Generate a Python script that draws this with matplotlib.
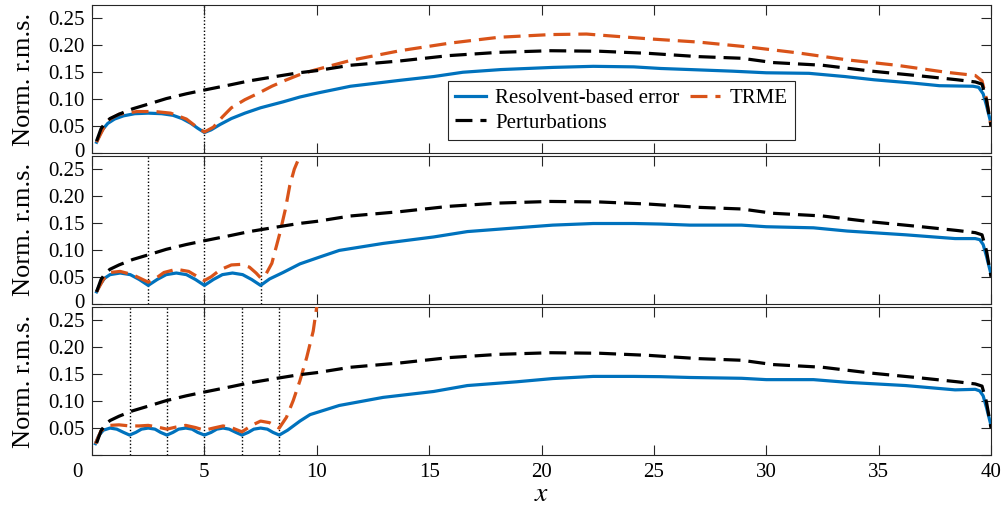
import matplotlib
matplotlib.use("Agg")
import matplotlib.pyplot as plt
from matplotlib.lines import Line2D
from matplotlib.transforms import ScaledTranslation

plt.rcParams["font.family"] = ["Liberation Serif", "DejaVu Serif"]
plt.rcParams["mathtext.fontset"] = "stix"

# ---- data -------------------------------------------------------------
# Perturbation amplitude (same in every panel)
pert_x = [0.2, 0.4, 0.6, 0.8, 1.2, 1.8, 2.6, 3.3, 4.2, 5.0, 6.2, 7.0, 8.3, 9.2,
          10.0, 11.5, 13.7, 15.9, 18.1, 20.4, 22.6, 24.8, 27.0, 28.9, 30.3, 32.5,
          34.7, 36.9, 38.5, 39.3, 39.6, 39.8, 40.0]
pert_y = [0.022, 0.045, 0.057, 0.064, 0.072, 0.082, 0.092, 0.101, 0.110, 0.117,
          0.127, 0.134, 0.143, 0.149, 0.153, 0.163, 0.171, 0.181, 0.187, 0.190,
          0.189, 0.185, 0.179, 0.176, 0.168, 0.163, 0.152, 0.143, 0.136, 0.132,
          0.128, 0.098, 0.050]

# Panel 1: one sensor
err1_x = [0.2, 0.35, 0.5, 0.7, 1.0, 1.4, 1.9, 2.5, 3.1, 3.6, 4.0, 4.4, 4.7, 5.0,
          5.3, 5.7, 6.2, 6.8, 7.5, 8.5, 9.25, 10.1, 11.5, 13.7, 15.2, 16.5, 18.2,
          20.5, 22.3, 24.1, 25.3, 26.6, 28.5, 30.0, 31.9, 33.5, 34.8, 36.5, 37.7,
          39.2, 39.45, 39.65, 39.8, 39.92, 40.0]
err1_y = [0.020, 0.035, 0.045, 0.055, 0.063, 0.069, 0.073, 0.074, 0.073, 0.070,
          0.064, 0.055, 0.046, 0.038, 0.043, 0.053, 0.064, 0.074, 0.084, 0.095,
          0.104, 0.112, 0.124, 0.135, 0.142, 0.150, 0.155, 0.159, 0.161, 0.160,
          0.157, 0.155, 0.152, 0.149, 0.148, 0.142, 0.136, 0.130, 0.125, 0.124,
          0.122, 0.110, 0.088, 0.068, 0.055]
trme1_x = [0.2, 0.5, 0.8, 1.2, 2.0, 2.8, 3.5, 4.2, 4.6, 5.0, 5.4, 5.8, 6.2, 6.8,
           7.4, 8.0, 8.6, 9.2, 9.9, 11.5, 13.7, 15.9, 18.1, 20.4, 22.0, 22.6,
           24.8, 27.0, 29.2, 31.4, 33.6, 35.8, 38.0, 39.3, 39.6, 39.8, 40.0]
trme1_y = [0.020, 0.045, 0.063, 0.072, 0.077, 0.077, 0.074, 0.063, 0.050, 0.039,
           0.048, 0.067, 0.084, 0.099, 0.111, 0.124, 0.135, 0.145, 0.154, 0.172,
           0.190, 0.204, 0.215, 0.220, 0.221, 0.219, 0.212, 0.206, 0.197, 0.186,
           0.173, 0.163, 0.150, 0.144, 0.134, 0.100, 0.050]

# Panel 2: three sensors
err2_x = [0.2, 0.35, 0.55, 0.8, 1.25, 1.7, 2.1, 2.5, 2.9, 3.3, 3.75, 4.2, 4.6,
          5.0, 5.4, 5.8, 6.25, 6.7, 7.1, 7.5, 7.9, 8.5, 9.25, 10.15, 11.0, 12.95,
          15.2, 16.7, 18.9, 20.5, 22.3, 24.1, 25.3, 26.6, 28.9, 30.0, 32.1, 33.6,
          36.2, 38.4, 39.3, 39.5, 39.65, 39.8, 39.92, 40.0]
err2_y = [0.022, 0.035, 0.047, 0.054, 0.057, 0.054, 0.045, 0.034, 0.045, 0.054,
          0.057, 0.054, 0.045, 0.034, 0.045, 0.054, 0.057, 0.054, 0.045, 0.034,
          0.046, 0.058, 0.074, 0.087, 0.099, 0.112, 0.124, 0.134, 0.141, 0.146,
          0.149, 0.149, 0.148, 0.146, 0.146, 0.143, 0.141, 0.135, 0.128, 0.121,
          0.121, 0.119, 0.110, 0.088, 0.068, 0.055]
trme2_x = [0.2, 0.5, 0.8, 1.25, 1.8, 2.2, 2.5, 2.8, 3.2, 3.75, 4.3, 4.7, 5.0, 5.3,
           5.7, 6.2, 6.6, 7.0, 7.3, 7.5, 7.7, 8.0, 8.35, 8.6, 8.8, 9.0, 9.2, 9.5]
trme2_y = [0.022, 0.045, 0.058, 0.060, 0.054, 0.046, 0.040, 0.046, 0.058, 0.064,
           0.060, 0.050, 0.043, 0.050, 0.063, 0.072, 0.073, 0.068, 0.057, 0.048,
           0.052, 0.075, 0.130, 0.175, 0.220, 0.250, 0.270, 0.320]

# Panel 3: five sensors
err3_x = [0.15, 0.3, 0.5, 0.8, 1.1, 1.4, 1.67, 1.95, 2.2, 2.5, 2.8, 3.05, 3.33,
          3.6, 3.85, 4.17, 4.45, 4.7, 5.0, 5.3, 5.55, 5.83, 6.1, 6.4, 6.67, 6.95,
          7.2, 7.5, 7.8, 8.05, 8.33, 8.7, 9.25, 9.7, 11.0, 12.95, 15.2, 16.7,
          18.9, 20.5, 22.3, 24.1, 25.3, 26.6, 28.9, 30.0, 32.1, 33.6, 36.2, 38.4,
          39.3, 39.5, 39.65, 39.8, 39.92, 40.0]
err3_y = [0.021, 0.036, 0.046, 0.050, 0.048, 0.042, 0.037, 0.042, 0.048, 0.050,
          0.048, 0.042, 0.037, 0.042, 0.048, 0.050, 0.048, 0.042, 0.037, 0.042,
          0.048, 0.050, 0.048, 0.042, 0.037, 0.042, 0.048, 0.050, 0.048, 0.042,
          0.037, 0.046, 0.063, 0.075, 0.092, 0.107, 0.118, 0.129, 0.136, 0.142,
          0.146, 0.146, 0.1455, 0.144, 0.1425, 0.140, 0.140, 0.135, 0.129, 0.121,
          0.122, 0.119, 0.110, 0.088, 0.068, 0.055]
trme3_x = [0.15, 0.4, 0.8, 1.2, 1.67, 2.1, 2.5, 2.9, 3.33, 3.75, 4.17, 4.6, 5.0,
           5.4, 5.83, 6.25, 6.67, 7.1, 7.5, 7.9, 8.33, 8.65, 8.95, 9.25, 9.55,
           9.84, 9.99, 10.3]
trme3_y = [0.021, 0.045, 0.055, 0.056, 0.054, 0.054, 0.055, 0.052, 0.048, 0.052,
           0.055, 0.051, 0.046, 0.050, 0.054, 0.050, 0.043, 0.055, 0.063, 0.060,
           0.050, 0.070, 0.101, 0.138, 0.181, 0.230, 0.273, 0.330]

# Sensor locations per panel
sensors = [[5.0],
           [2.5, 5.0, 7.5],
           [1.667, 3.333, 5.0, 6.667, 8.333]]

x_ticks = [0, 5, 10, 15, 20, 25, 30, 35, 40]
y_ticks = [0, 0.05, 0.10, 0.15, 0.20, 0.25]
y_ticklabels = ["0", "0.05", "0.10", "0.15", "0.20", "0.25"]

# ---- style ------------------------------------------------------------
BLUE = "#0072BD"
ORANGE = "#D95319"
LW = 2.3
DASH = (5.3, 2.5)
FS = 15
FS_LABEL = 19
EDGE = "#262626"

fig = plt.figure(figsize=(10.06, 5.13), dpi=100)

left, width, height = 0.0915, 0.8936, 0.2885
bottoms = [0.7018, 0.4080, 0.1131]

panels = [(err1_x, err1_y, trme1_x, trme1_y),
          (err2_x, err2_y, trme2_x, trme2_y),
          (err3_x, err3_y, trme3_x, trme3_y)]

axes = []
for i, (ex, ey, tx, ty) in enumerate(panels):
    ax = fig.add_axes([left, bottoms[i], width, height])
    axes.append(ax)
    for xs in sensors[i]:
        ax.axvline(xs, color="black", linestyle=(0, (1, 1.5)), lw=1.0, zorder=1)
    ax.plot(ex, ey, color=BLUE, lw=LW, zorder=3, solid_joinstyle="round")
    ax.plot(tx, ty, color=ORANGE, lw=LW, dashes=DASH, zorder=4)
    ax.plot(pert_x, pert_y, color="black", lw=LW, dashes=DASH, zorder=5)

    ax.set_xlim(0, 40)
    ax.set_ylim(0, 0.275)
    ax.set_xticks(x_ticks)
    ax.set_yticks(y_ticks)
    if i == 2:
        ax.set_yticklabels([""] + y_ticklabels[1:])
    else:
        ax.set_yticklabels(y_ticklabels)
    ax.tick_params(direction="in", top=True, right=True, length=7, width=0.8,
                   color=EDGE, labelsize=FS, pad=5.5)
    if i < 2:
        ax.tick_params(labelbottom=False)
    for sp in ax.spines.values():
        sp.set_color(EDGE)
        sp.set_linewidth(0.8)
    ax.set_ylabel("Norm. r.m.s.", fontsize=FS_LABEL)
    ax.yaxis.set_label_coords(-0.063, 0.5)

# x axis label and tick labels on the bottom panel
ax3 = axes[2]
ax3.set_xticklabels([str(t) for t in x_ticks])
ax3.set_xlabel(r"$x$", fontsize=FS_LABEL + 1)
ax3.xaxis.label.set_va("center")
ax3.xaxis.set_label_coords(0.5, -0.27)
fig.canvas.draw()
first = ax3.get_xticklabels()[0]
first.set_transform(first.get_transform() +
                    ScaledTranslation(-15 / 100, 0, fig.dpi_scale_trans))
# lift the "0" labels of the upper panels a little off the panel below
for ax in axes[:2]:
    zero = ax.get_yticklabels()[0]
    zero.set_transform(zero.get_transform() +
                       ScaledTranslation(0, 3 / 100, fig.dpi_scale_trans))

# legend in the top panel, filled row by row
handles = [Line2D([], [], color=BLUE, lw=LW),
           Line2D([], [], color="black", lw=LW, dashes=DASH),
           Line2D([], [], color=ORANGE, lw=LW, dashes=DASH)]
labels = ["Resolvent-based error", "Perturbations", "TRME"]
leg = axes[0].legend(handles, labels, ncol=2, loc="upper left",
                     bbox_to_anchor=(0.396, 0.486), borderaxespad=0,
                     fontsize=FS, frameon=True, fancybox=False, framealpha=1,
                     edgecolor=EDGE, handlelength=1.45, handletextpad=0.45,
                     columnspacing=0.5, labelspacing=0.25, borderpad=0.35)
leg.get_frame().set_linewidth(0.8)
leg.set_zorder(10)

fig.savefig("out.png", dpi=100)
